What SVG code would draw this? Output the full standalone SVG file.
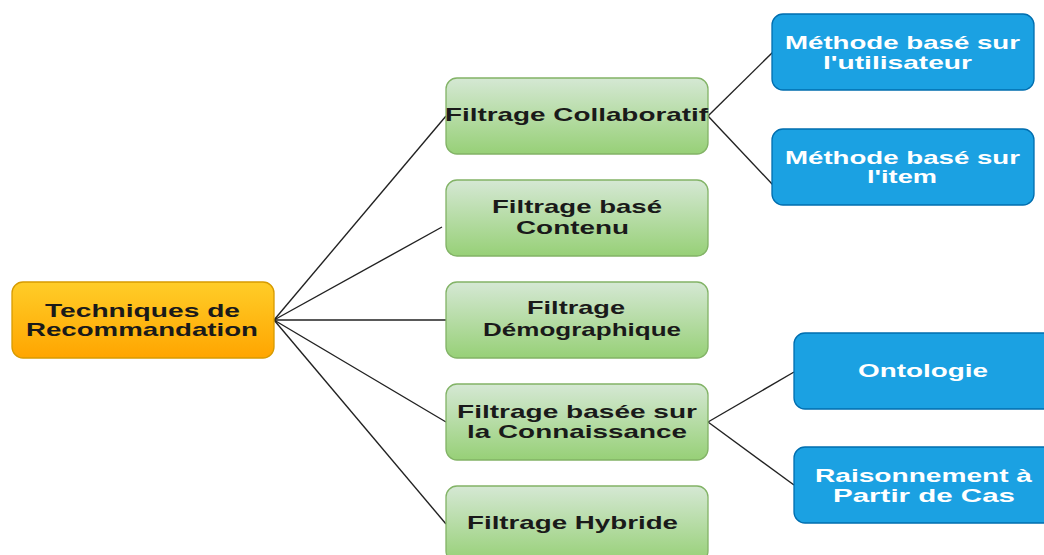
<svg xmlns="http://www.w3.org/2000/svg" width="1044" height="555" viewBox="0 0 1044 555">
<defs>
<linearGradient id="gOrange" x1="0" y1="0" x2="0" y2="1"><stop offset="0" stop-color="#ffcd28"/><stop offset="1" stop-color="#ffa500"/></linearGradient>
<linearGradient id="gGreen" x1="0" y1="0" x2="0" y2="1"><stop offset="0" stop-color="#d5e8d4"/><stop offset="1" stop-color="#97d077"/></linearGradient>
<style>
.root{fill:url(#gOrange);stroke:#d79b00;stroke-width:1.3}
.green{fill:url(#gGreen);stroke:#82b366;stroke-width:1.3}
.blue{fill:#1ba1e2;stroke:#006eaf;stroke-width:1.3}
text{font-family:"Liberation Sans",Arial,sans-serif;font-weight:bold;font-size:19px}
.dk{fill:#1a1a1a}
.wt{fill:#ffffff}
.conn line{stroke:#222;stroke-width:1.4}
</style>
</defs>
<g id="connectors" class="conn">
<line x1="274" y1="320" x2="446" y2="116"/>
<line x1="274" y1="320" x2="442" y2="227"/>
<line x1="274" y1="320" x2="446" y2="320"/>
<line x1="274" y1="320" x2="446" y2="422"/>
<line x1="274" y1="320" x2="446" y2="524"/>
<line x1="708" y1="116" x2="773" y2="52"/>
<line x1="708" y1="116" x2="773" y2="185"/>
<line x1="708" y1="422" x2="794" y2="372"/>
<line x1="708" y1="422" x2="794" y2="485"/>
</g>
<g id="root">
<rect class="root" x="12" y="282" width="262" height="76" rx="11"/>
<text class="dk" x="45" y="317" textLength="195" lengthAdjust="spacingAndGlyphs">Techniques de</text>
<text class="dk" x="26" y="336" textLength="232" lengthAdjust="spacingAndGlyphs">Recommandation</text>
</g>
<g id="collaboratif">
<rect class="green" x="446" y="78" width="262" height="76" rx="11"/>
<text class="dk" x="445" y="121" textLength="263" lengthAdjust="spacingAndGlyphs">Filtrage Collaboratif</text>
</g>
<g id="contenu">
<rect class="green" x="446" y="180" width="262" height="76" rx="11"/>
<text class="dk" x="492" y="213" textLength="170" lengthAdjust="spacingAndGlyphs">Filtrage basé</text>
<text class="dk" x="516" y="234" textLength="113" lengthAdjust="spacingAndGlyphs">Contenu</text>
</g>
<g id="demographique">
<rect class="green" x="446" y="282" width="262" height="76" rx="11"/>
<text class="dk" x="527" y="314" textLength="98" lengthAdjust="spacingAndGlyphs">Filtrage</text>
<text class="dk" x="483" y="336" textLength="198" lengthAdjust="spacingAndGlyphs">Démographique</text>
</g>
<g id="connaissance">
<rect class="green" x="446" y="384" width="262" height="76" rx="11"/>
<text class="dk" x="457" y="418" textLength="240" lengthAdjust="spacingAndGlyphs">Filtrage basée sur</text>
<text class="dk" x="467" y="438" textLength="220" lengthAdjust="spacingAndGlyphs">la Connaissance</text>
</g>
<g id="hybride">
<rect class="green" x="446" y="486" width="262" height="76" rx="11"/>
<text class="dk" x="467" y="529" textLength="211" lengthAdjust="spacingAndGlyphs">Filtrage Hybride</text>
</g>
<g id="utilisateur">
<rect class="blue" x="772" y="14" width="262" height="76" rx="11"/>
<text class="wt" x="785" y="49" textLength="235" lengthAdjust="spacingAndGlyphs">Méthode basé sur</text>
<text class="wt" x="823" y="69" textLength="149" lengthAdjust="spacingAndGlyphs">l'utilisateur</text>
</g>
<g id="item">
<rect class="blue" x="772" y="129" width="262" height="76" rx="11"/>
<text class="wt" x="785" y="164" textLength="235" lengthAdjust="spacingAndGlyphs">Méthode basé sur</text>
<text class="wt" x="867" y="183" textLength="70" lengthAdjust="spacingAndGlyphs">l'item</text>
</g>
<g id="ontologie">
<rect class="blue" x="794" y="333" width="262" height="76" rx="11"/>
<text class="wt" x="858" y="377" textLength="130" lengthAdjust="spacingAndGlyphs">Ontologie</text>
</g>
<g id="raisonnement">
<rect class="blue" x="794" y="447" width="262" height="76" rx="11"/>
<text class="wt" x="815" y="482" textLength="217" lengthAdjust="spacingAndGlyphs">Raisonnement à</text>
<text class="wt" x="833" y="502" textLength="182" lengthAdjust="spacingAndGlyphs">Partir de Cas</text>
</g>
</svg>
